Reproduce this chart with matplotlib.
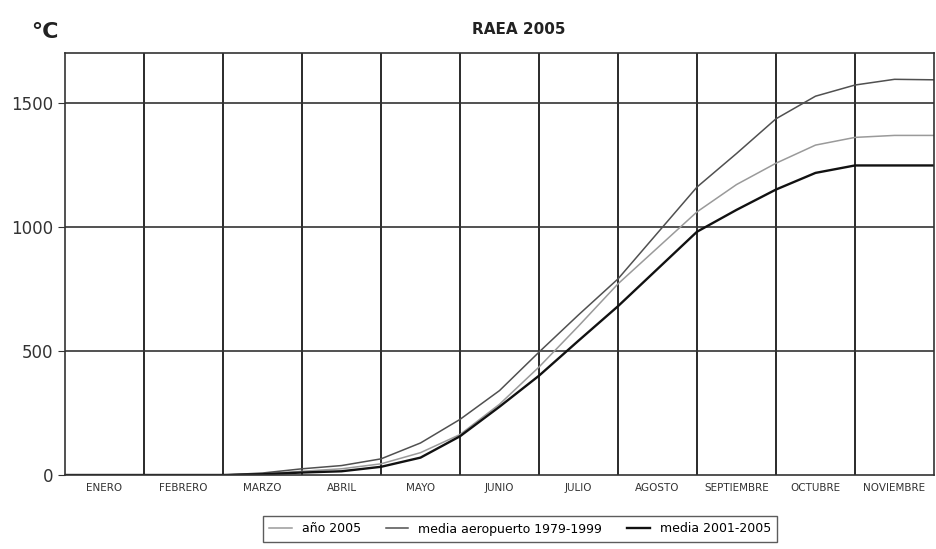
import matplotlib
matplotlib.use('Agg')
import matplotlib.pyplot as plt
import numpy as np

# half-month positions (0 = 1 January, 11 = 30 November)
dias = [0, 0.5, 1, 1.5, 2, 2.5, 3, 3.5, 4, 4.5, 5, 5.5,
        6, 6.5, 7, 7.5, 8, 8.5, 9, 9.5, 10, 10.5, 11]

meses = ['ENERO', 'FEBRERO', 'MARZO', 'ABRIL', 'MAYO', 'JUNIO', 'JULIO',
         'AGOSTO', 'SEPTIEMBRE', 'OCTUBRE', 'NOVIEMBRE']

anio_2005 = [0, 0, 0, 0, 0, 5, 15, 25, 45, 90, 163, 285,
             435, 600, 770, 915, 1060, 1170, 1256, 1329, 1360, 1368, 1368]
media_aeropuerto = [0, 0, 0, 0, 0, 8, 25, 38, 65, 129, 224, 340,
                    495, 645, 790, 975, 1160, 1295, 1435, 1526, 1571, 1594, 1592]
media_2001_2005 = [0, 0, 0, 0, 0, 3, 10, 15, 33, 70, 156, 275,
                   400, 541, 680, 830, 980, 1068, 1150, 1217, 1247, 1247, 1247]

fig = plt.figure(figsize=(9.36, 5.49), dpi=100)
ax = fig.add_axes([65/936, (549-475)/549, (934-65)/936, (475-53)/549])

ax.plot(dias, anio_2005, color='#9a9a9a', lw=1.1, label='año 2005')
ax.plot(dias, media_aeropuerto, color='#505050', lw=1.1, label='media aeropuerto 1979-1999')
ax.plot(dias, media_2001_2005, color='#111111', lw=1.7, label='media 2001-2005')

ax.set_xlim(0, 11)
ax.set_ylim(0, 1700)

ax.set_yticks([0, 500, 1000, 1500])
ax.tick_params(axis='y', labelsize=12, labelcolor='#333333', length=5, color='#333333')

# month boundaries as grid, labels centred in each month
for m in range(1, 11):
    ax.axvline(m, color='#2a2a2a', lw=1.4, zorder=0)
for v in [500, 1000, 1500]:
    ax.axhline(v, color='#333333', lw=1.2, zorder=0)
ax.set_xticks(np.arange(11) + 0.5)
ax.set_xticklabels(meses, fontsize=7.5, color='#333333')
ax.tick_params(axis='x', length=0, pad=6)

for s in ax.spines.values():
    s.set_color('#333333')
    s.set_linewidth(1.2)

fig.text(45/936, 1 - 32/549, '°C', fontsize=16, fontweight='bold', ha='center', va='center', color='#222222')
fig.text(519/936, 1 - 30/549, 'RAEA 2005', fontsize=11, fontweight='bold', ha='center', va='center', color='#222222')

fig.legend(loc='center', bbox_to_anchor=(520/936, 1 - 529/549), ncol=3, fontsize=9,
           frameon=True, fancybox=False, edgecolor='#333333', handlelength=1.8,
           columnspacing=2.0, borderpad=0.5)

fig.savefig('out.png', dpi=100)
